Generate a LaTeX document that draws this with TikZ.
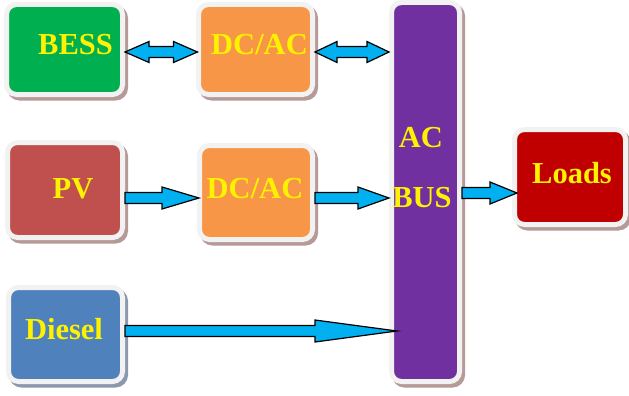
\documentclass[tikz,border=0pt]{standalone}
\usepackage{fontspec}
\setmainfont{Liberation Serif}
\usetikzlibrary{calc,shadows}
\definecolor{bessgreen}{RGB}{0,176,80}
\definecolor{convorange}{RGB}{247,150,70}
\definecolor{pvred}{RGB}{192,80,77}
\definecolor{dieselblue}{RGB}{79,129,189}
\definecolor{buspurple}{RGB}{112,48,160}
\definecolor{loadred}{RGB}{192,0,0}
\definecolor{flowcyan}{RGB}{0,176,240}
\definecolor{rim}{RGB}{242,242,242}
\definecolor{shade}{RGB}{182,154,152}
\definecolor{shadeblue}{RGB}{140,152,174}
\tikzset{
  block/.style={draw=rim, line width=5pt, rounded corners=10pt, inner sep=0pt,
    drop shadow={shadow xshift=3pt, shadow yshift=-3.5pt, opacity=1,
      fill=#1, draw=#1, line width=5pt}},
  block/.default=shade,
  lbl/.style={text=yellow, font=\bfseries\fontsize{30.5}{30}\selectfont,
    inner sep=0pt, anchor=base},
  flow/.style={draw=black, line width=1.2pt, fill=flowcyan, line join=miter,
    to path={let \p1=(\tikztostart), \p2=(\tikztotarget) in
      (\x1,{\y1+5.5pt}) -- ({\x2-#1},{\y1+5.5pt}) -- ({\x2-#1},{\y1+11pt})
      -- (\x2,\y1) -- ({\x2-#1},{\y1-11pt}) -- ({\x2-#1},{\y1-5.5pt})
      -- (\x1,{\y1-5.5pt}) -- cycle}},
  dflow/.style={draw=black, line width=1.2pt, fill=flowcyan, line join=miter,
    to path={let \p1=(\tikztostart), \p2=(\tikztotarget) in
      (\x1,\y1) -- ({\x1+#1},{\y1+10.5pt}) -- ({\x1+#1},{\y1+5.5pt})
      -- ({\x2-#1},{\y1+5.5pt}) -- ({\x2-#1},{\y1+10.5pt}) -- (\x2,\y1)
      -- ({\x2-#1},{\y1-10.5pt}) -- ({\x2-#1},{\y1-5.5pt})
      -- ({\x1+#1},{\y1-5.5pt}) -- ({\x1+#1},{\y1-10.5pt}) -- cycle}}
}
\begin{document}
\begin{tikzpicture}[x=1pt, y=-1pt]
\useasboundingbox (0,0) rectangle (629,396);
% sources and converters
\node[block, fill=bessgreen, minimum width=116pt, minimum height=90pt] (bess) at (64.5,49.5){};
\node[block, fill=convorange, minimum width=114pt, minimum height=90pt] (dcac1) at (255.5,49.5){};
\node[block, fill=pvred, minimum width=115pt, minimum height=95pt] (pv) at (65,190){};
\node[block, fill=convorange, minimum width=113pt, minimum height=94pt] (dcac2) at (256,192.5){};
\node[block=shadeblue, fill=dieselblue, minimum width=114pt, minimum height=94pt] (diesel) at (65.5,334.5){};
% bus and loads
\node[block, fill=buspurple, minimum width=68pt, minimum height=379pt] (bus) at (425.5,192){};
\node[block, fill=loadred, minimum width=111pt, minimum height=95pt] (loads) at (570,177){};
% texts
\node[lbl] (tbess) at (75.5,55){BESS};
\node[lbl] (tdcac1) at (259.5,55){DC/AC};
\node[lbl] (tpv) at (73,198){PV};
\node[lbl] (tdcac2) at (255,198){DC/AC};
\node[lbl] (tdiesel) at (64,339){Diesel};
\node[lbl] (tac) at (421,147){AC};
\node[lbl] (tbus) at (422,207){BUS};
\node[lbl] (tloads) at (572,183){Loads};
% power flows
\draw[dflow=24pt] ([yshift=-2.5pt]bess.east) to ([yshift=-2.5pt,xshift=1.5pt]dcac1.west);
\draw[dflow=22pt] ([yshift=-2.5pt]dcac1.east) to ([yshift=-2.5pt]bus.west);
\draw[flow=37pt] ([yshift=-8pt]pv.east) to ([yshift=-5.5pt,xshift=2pt]dcac2.west);
\draw[flow=31pt] ([yshift=-5.5pt]dcac2.east) to ([yshift=-6pt]bus.west);
\draw[flow=27pt] ([yshift=-1pt]bus.east) to ([yshift=-1pt,xshift=5pt]loads.west);
\draw[flow=82pt] ([yshift=3.5pt]diesel.east) to ([yshift=-139pt,xshift=8pt]bus.west);
\end{tikzpicture}
\end{document}
